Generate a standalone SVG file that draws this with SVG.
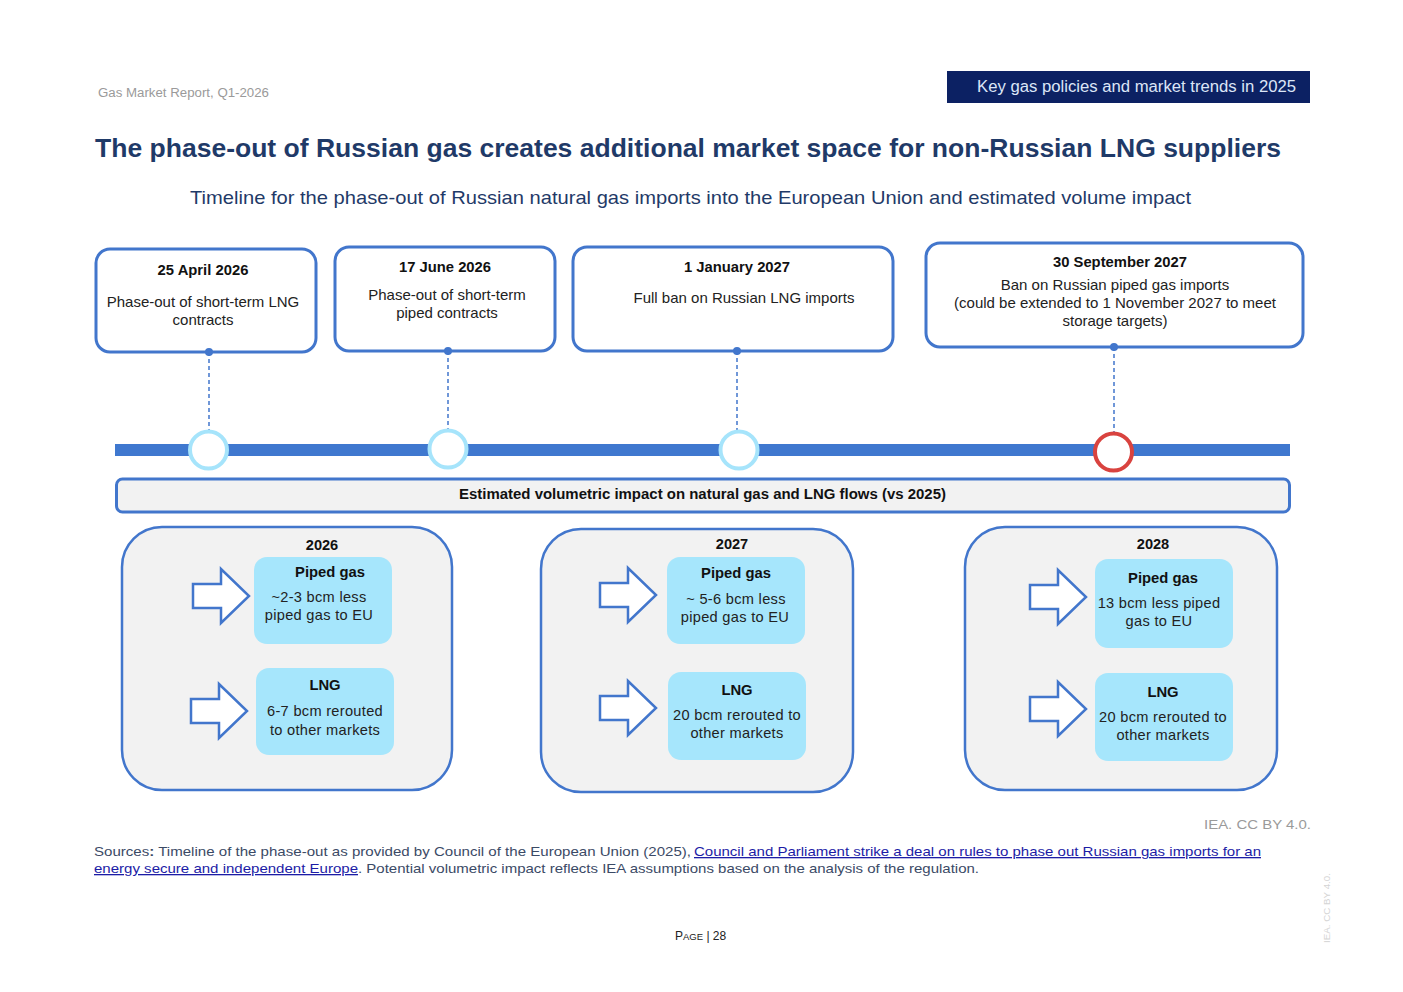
<svg xmlns="http://www.w3.org/2000/svg" width="1403" height="992" viewBox="0 0 1403 992">
<style>
text{font-family:"Liberation Sans",Arial,sans-serif;}
.hdr{font-size:12.5px;fill:#9a9a9a;}
.title{font-size:25px;font-weight:bold;fill:#1f3a68;}
.sub{font-size:19px;fill:#1f3a68;}
.evbox{fill:#fff;stroke:#4276cc;stroke-width:3;}
.evt{font-size:14.8px;font-weight:bold;fill:#111;text-anchor:middle;}
.evb{font-size:15px;fill:#222;text-anchor:middle;}
.dash{stroke:#4276cc;stroke-width:1.5;stroke-dasharray:4 3;fill:none;}
.dot{fill:#4276cc;}
.ring{fill:#fff;stroke:#a6e4fb;stroke-width:4;}
.yearbox{fill:#f2f2f2;stroke:#4276cc;stroke-width:2.5;}
.inner{fill:#a6e6fc;}
.ih{font-size:14.8px;font-weight:bold;fill:#111;text-anchor:middle;}
.ib{font-size:14.6px;fill:#222;text-anchor:middle;letter-spacing:0.3px;}
.yr{font-size:14.6px;font-weight:bold;fill:#111;text-anchor:middle;}
.arrow{fill:#fff;stroke:#4276cc;stroke-width:2.5;stroke-linejoin:miter;}
.src{font-size:13px;fill:#3b4a66;}
.lnk{font-size:13px;fill:#1c1ca6;text-decoration:underline;}
</style>
<defs>
<path id="arr" class="arrow" d="M0,15 H28 V0 L56,27 L28,54 V39 H0 Z"/>
</defs>

<g id="header">
<text class="hdr" x="98" y="97" textLength="171" lengthAdjust="spacingAndGlyphs">Gas Market Report, Q1-2026</text>
<rect x="947" y="71" width="363" height="32" fill="#0c2163"/>
<text x="1296" y="92" font-size="16" fill="#dce6f7" text-anchor="end" textLength="319" lengthAdjust="spacingAndGlyphs">Key gas policies and market trends in 2025</text>
</g>

<g id="titles">
<text class="title" x="95" y="157" textLength="1186" lengthAdjust="spacingAndGlyphs">The phase-out of Russian gas creates additional market space for non-Russian LNG suppliers</text>
<text class="sub" x="190" y="204" textLength="1001" lengthAdjust="spacingAndGlyphs">Timeline for the phase-out of Russian natural gas imports into the European Union and estimated volume impact</text>
</g>

<g id="connectors">
<rect x="115" y="444" width="1175" height="12" fill="#3f78cf"/>
<line class="dash" x1="209" y1="352" x2="209" y2="430"/>
<line class="dash" x1="448" y1="351" x2="448" y2="429"/>
<line class="dash" x1="737" y1="351" x2="737" y2="430"/>
<line class="dash" x1="1114" y1="347" x2="1114" y2="432"/>
</g>

<g id="event1">
<rect class="evbox" x="96" y="249" width="220" height="103" rx="14"/>
<text class="evt" x="203" y="275">25 April 2026</text>
<text class="evb" x="203" y="307">Phase-out of short-term LNG</text>
<text class="evb" x="203" y="325">contracts</text>
<circle class="dot" cx="209" cy="352" r="4"/>
</g>
<g id="event2">
<rect class="evbox" x="335" y="247" width="220" height="104" rx="14"/>
<text class="evt" x="445" y="272">17 June 2026</text>
<text class="evb" x="447" y="300">Phase-out of short-term</text>
<text class="evb" x="447" y="318">piped contracts</text>
<circle class="dot" cx="448" cy="351" r="4"/>
</g>
<g id="event3">
<rect class="evbox" x="573" y="247" width="320" height="104" rx="14"/>
<text class="evt" x="737" y="272">1 January 2027</text>
<text class="evb" x="744" y="303">Full ban on Russian LNG imports</text>
<circle class="dot" cx="737" cy="351" r="4"/>
</g>
<g id="event4">
<rect class="evbox" x="926" y="243" width="377" height="104" rx="14"/>
<text class="evt" x="1120" y="267">30 September 2027</text>
<text class="evb" x="1115" y="290">Ban on Russian piped gas imports</text>
<text class="evb" x="1115" y="308">(could be extended to 1 November 2027 to meet</text>
<text class="evb" x="1115" y="326">storage targets)</text>
<circle class="dot" cx="1114" cy="347" r="4"/>
</g>

<g id="milestones">
<circle class="ring" cx="208.5" cy="450" r="18.5"/>
<circle class="ring" cx="448" cy="449" r="18.5"/>
<circle class="ring" cx="739" cy="450" r="18.5"/>
<circle cx="1113.5" cy="452" r="18.5" fill="#fff" stroke="#d9433f" stroke-width="4"/>
</g>

<g id="impact-bar">
<rect x="116.5" y="479" width="1173" height="33" rx="6" fill="#f2f2f2" stroke="#4276cc" stroke-width="3"/>
<text x="459" y="499" font-size="14" font-weight="bold" fill="#111" textLength="487" lengthAdjust="spacingAndGlyphs">Estimated volumetric impact on natural gas and LNG flows (vs 2025)</text>
</g>

<g id="year2026">
<rect class="yearbox" x="122" y="527" width="330" height="263" rx="40"/>
<text class="yr" x="322" y="550">2026</text>
<use href="#arr" x="193" y="569"/>
<rect class="inner" x="254" y="557" width="138" height="87" rx="13"/>
<text class="ih" x="330" y="577">Piped gas</text>
<text class="ib" x="319" y="602">~2-3 bcm less</text>
<text class="ib" x="319" y="620">piped gas to EU</text>
<use href="#arr" x="191" y="684"/>
<rect class="inner" x="256" y="668" width="138" height="87" rx="13"/>
<text class="ih" x="325" y="690">LNG</text>
<text class="ib" x="325" y="716">6-7 bcm rerouted</text>
<text class="ib" x="325" y="735">to other markets</text>
</g>

<g id="year2027">
<rect class="yearbox" x="541" y="529" width="312" height="263" rx="40"/>
<text class="yr" x="732" y="549">2027</text>
<use href="#arr" x="600" y="568"/>
<rect class="inner" x="667" y="557" width="138" height="87" rx="13"/>
<text class="ih" x="736" y="578">Piped gas</text>
<text class="ib" x="736" y="604">~ 5-6 bcm less</text>
<text class="ib" x="735" y="622">piped gas to EU</text>
<use href="#arr" x="600" y="681"/>
<rect class="inner" x="668" y="672" width="138" height="88" rx="13"/>
<text class="ih" x="737" y="695">LNG</text>
<text class="ib" x="737" y="720">20 bcm rerouted to</text>
<text class="ib" x="737" y="738">other markets</text>
</g>

<g id="year2028">
<rect class="yearbox" x="965" y="527" width="312" height="263" rx="40"/>
<text class="yr" x="1153" y="549">2028</text>
<use href="#arr" x="1030" y="570"/>
<rect class="inner" x="1095" y="559" width="138" height="89" rx="13"/>
<text class="ih" x="1163" y="583">Piped gas</text>
<text class="ib" x="1159" y="608">13 bcm less piped</text>
<text class="ib" x="1159" y="626">gas to EU</text>
<use href="#arr" x="1030" y="682"/>
<rect class="inner" x="1095" y="673" width="138" height="88" rx="13"/>
<text class="ih" x="1163" y="697">LNG</text>
<text class="ib" x="1163" y="722">20 bcm rerouted to</text>
<text class="ib" x="1163" y="740">other markets</text>
</g>

<g id="footer">
<text x="1311" y="829" font-size="13" fill="#9a9a9a" text-anchor="end" textLength="107" lengthAdjust="spacingAndGlyphs">IEA. CC BY 4.0.</text>
<text class="src" x="94" y="856" textLength="597" lengthAdjust="spacingAndGlyphs">Sources<tspan font-weight="bold">:</tspan> Timeline of the phase-out as provided by Council of the European Union (2025),</text>
<text class="lnk" x="694" y="856" textLength="567" lengthAdjust="spacingAndGlyphs">Council and Parliament strike a deal on rules to phase out Russian gas imports for an</text>
<text class="lnk" x="94" y="873" textLength="264" lengthAdjust="spacingAndGlyphs">energy secure and independent Europe</text>
<text class="src" x="358" y="873" textLength="621" lengthAdjust="spacingAndGlyphs">. Potential volumetric impact reflects IEA assumptions based on the analysis of the regulation.</text>
<text x="675" y="940" font-size="12" fill="#222">P<tspan font-size="9.5">AGE</tspan> | 28</text>
<text transform="translate(1330,943) rotate(-90)" font-size="9" fill="#d4d4d4" textLength="70" lengthAdjust="spacingAndGlyphs">IEA. CC BY 4.0.</text>
</g>
</svg>
